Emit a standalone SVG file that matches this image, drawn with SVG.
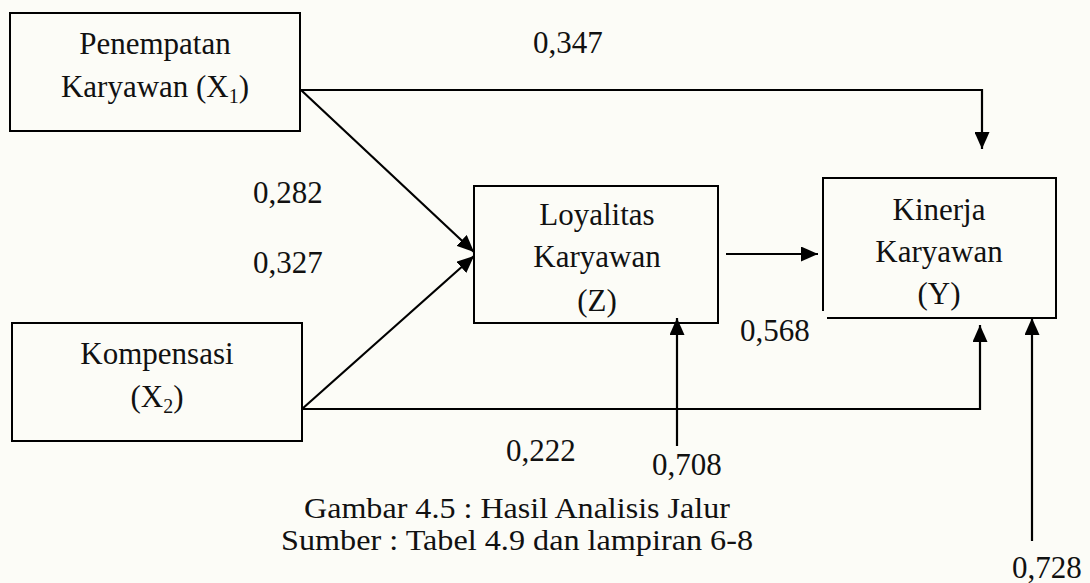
<svg xmlns="http://www.w3.org/2000/svg" width="1090" height="583" viewBox="0 0 1090 583">
  <style>
    .box { fill: #fcfcf7; stroke: #000; stroke-width: 2; }
    .lbl { font-family: "Liberation Serif", "Times New Roman", serif; font-size: 31px; fill: #111; }
    .cap { font-family: "Liberation Serif", "Times New Roman", serif; font-size: 29px; fill: #111; text-anchor: middle; }
    .mid { text-anchor: middle; }
    .sub { font-size: 20px; }
    .wire { fill: none; stroke: #000; stroke-width: 2.2; }
  </style>
  <defs>
    <marker id="head" viewBox="0 0 17 15" refX="17" refY="7.5" markerWidth="17" markerHeight="15" markerUnits="userSpaceOnUse" orient="auto">
      <path d="M0,0 L17,7.5 L0,15 Z" fill="#000"/>
    </marker>
  </defs>

  <rect width="1090" height="583" fill="#fcfcf7"/>

  <g id="node-x1">
    <rect class="box" x="10" y="13" width="290" height="118"/>
    <text class="lbl mid" x="155" y="54">Penempatan</text>
    <text class="lbl mid" x="155" y="97">Karyawan (X<tspan class="sub" dy="6">1</tspan><tspan dy="-6">)</tspan></text>
  </g>

  <g id="node-x2">
    <rect class="box" x="12" y="323" width="290" height="118"/>
    <text class="lbl mid" x="157" y="364">Kompensasi</text>
    <text class="lbl mid" x="157" y="407">(X<tspan class="sub" dy="6">2</tspan><tspan dy="-6">)</tspan></text>
  </g>

  <g id="node-z">
    <rect class="box" x="474" y="186" width="244" height="137"/>
    <text class="lbl mid" x="597" y="225">Loyalitas</text>
    <text class="lbl mid" x="597" y="267">Karyawan</text>
    <text class="lbl mid" x="597" y="311">(Z)</text>
  </g>

  <g id="node-y">
    <rect x="823" y="178" width="233" height="140" fill="#fcfcf7" stroke="none"/>
    <path d="M823,311 L823,178 L1056,178 L1056,318 L827,318" fill="none" stroke="#000" stroke-width="2"/>
    <text class="lbl mid" x="939" y="220">Kinerja</text>
    <text class="lbl mid" x="939" y="262">Karyawan</text>
    <text class="lbl mid" x="939" y="304">(Y)</text>
  </g>

  <g id="connectors">
    <path class="wire" d="M301,90 L982,90 L982,149" marker-end="url(#head)"/>
    <path class="wire" d="M301,90 L474,252" marker-end="url(#head)"/>
    <path class="wire" d="M302,409 L474,256" marker-end="url(#head)"/>
    <path class="wire" d="M302,409 L980,409 L980,325" marker-end="url(#head)"/>
    <path class="wire" d="M726,254 L818,254" marker-end="url(#head)"/>
    <path class="wire" d="M677,446 L677,318" marker-end="url(#head)"/>
    <path class="wire" d="M1032,541 L1032,318" marker-end="url(#head)"/>
  </g>

  <g id="coefficients">
    <text class="lbl" x="533" y="53">0,347</text>
    <text class="lbl" x="253" y="203">0,282</text>
    <text class="lbl" x="253" y="273">0,327</text>
    <text class="lbl" x="740" y="341">0,568</text>
    <text class="lbl" x="506" y="461">0,222</text>
    <text class="lbl" x="652" y="475">0,708</text>
    <text class="lbl" x="1012" y="578">0,728</text>
  </g>

  <g id="caption">
    <text class="cap" x="517" y="518" textLength="426" lengthAdjust="spacingAndGlyphs">Gambar 4.5 : Hasil Analisis Jalur</text>
    <text class="cap" x="517" y="550" textLength="472" lengthAdjust="spacingAndGlyphs">Sumber : Tabel 4.9 dan lampiran 6-8</text>
  </g>
</svg>
